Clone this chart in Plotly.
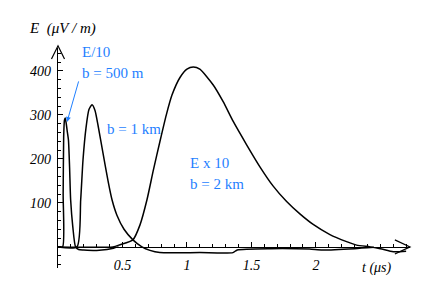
import plotly.graph_objects as go

# ---- data ----
t_500m = [0.0, 0.036, 0.040, 0.044, 0.050, 0.056, 0.064, 0.072, 0.081, 0.090, 0.098, 0.115, 0.136, 0.16, 0.20, 0.30, 0.38, 0.43, 0.47]
E_500m = [0, 0, 120, 250, 288, 293, 280, 262, 243, 180, 107, 45, 0, -6, -7, -8, -6, -3, 0]

t_1km = [0.0, 0.147, 0.176, 0.194, 0.217, 0.240, 0.264, 0.287, 0.310, 0.349, 0.388, 0.419, 0.457, 0.512, 0.581, 0.651,
         0.713, 0.79, 1.10, 1.357, 1.39, 1.65, 1.95, 2.05, 2.30, 2.45]
E_1km = [0, 0, 107, 198, 270, 312, 323, 310, 277, 213, 150, 107, 72, 40, 16, 0,
         -8, -13, -13, -13, -7, -4, -5, -7, -4, -1]

t_2km = [0.0, 0.426, 0.481, 0.581, 0.636, 0.690, 0.740, 0.791, 0.840, 0.884, 0.946, 1.000, 1.049, 1.100,
         1.204, 1.281, 1.359, 1.463, 1.566, 1.669, 1.773, 1.876, 1.979, 2.109, 2.238, 2.316, 2.42, 2.50, 2.60, 2.70]
E_2km = [0, 0, 5, 16, 50, 107, 175, 240, 300, 345, 385, 404, 409, 404,
         368, 330, 285, 232, 182, 138, 103, 75, 51, 28, 12, 4, 0, -4, -11, -10]

x_tick_vals = [0.5, 1, 1.5, 2]
x_tick_text = ["0.5", "1", "1.5", "2"]
y_tick_vals = [100, 200, 300, 400]
y_tick_text = ["100", "200", "300", "400"]

BLUE = "#1f7fff"
SERIF = "Liberation Serif"

fig = go.Figure()
for t, e in [(t_500m, E_500m), (t_1km, E_1km), (t_2km, E_2km)]:
    fig.add_trace(go.Scatter(x=t, y=e, mode="lines",
                             line=dict(color="black", width=1.5, shape="spline", smoothing=0.6),
                             showlegend=False, hoverinfo="skip"))

y_lo, y_hi = -48, 452
x_pos = (0 - y_lo) / (y_hi - y_lo)

fig.update_layout(
    width=436, height=304,
    margin=dict(l=58, r=26, t=48, b=36),
    paper_bgcolor="white", plot_bgcolor="white",
    showlegend=False,
    xaxis=dict(range=[0, 2.73], anchor="free", position=x_pos,
               showline=True, linecolor="black", linewidth=1.2,
               showgrid=False, zeroline=False,
               ticks="inside", ticklen=5, tickcolor="black", tickwidth=1,
               tickvals=x_tick_vals, ticktext=x_tick_text,
               ticklabelstandoff=5,
               tickfont=dict(family=SERIF, size=14, color="black", style="italic"),
               minor=dict(dtick=0.1, tick0=0, ticks="inside", ticklen=3, tickcolor="black")),
    yaxis=dict(range=[y_lo, y_hi],
               showline=True, linecolor="black", linewidth=1.2,
               showgrid=False, zeroline=False,
               ticks="inside", ticklen=5, tickcolor="black", tickwidth=1,
               tickvals=y_tick_vals, ticktext=y_tick_text,
               ticklabelstandoff=3,
               tickfont=dict(family=SERIF, size=14, color="black", style="italic"),
               minor=dict(dtick=20, tick0=0, ticks="inside", ticklen=3, tickcolor="black")),
)

# axis arrowheads (open V)
fig.add_shape(type="path", xref="paper", yref="paper",
              path="M -0.0185,0.95 L 0,1.01 L 0.0185,0.95",
              line=dict(color="black", width=1.2))
fig.add_shape(type="path", xref="paper", yref="paper",
              path=f"M 0.957,{x_pos + 0.032} L 1,{x_pos} L 0.957,{x_pos - 0.032}",
              line=dict(color="black", width=1.2))

NB = "\u00a0"
ann = []
ann.append(dict(text=f"E{NB}{NB}(μV{NB}/{NB}m)", x=-0.088, y=1.09, xref="paper", yref="paper",
                xanchor="left", yanchor="middle", showarrow=False,
                font=dict(family=SERIF, size=15, color="black", style="italic")))
ann.append(dict(text="t (μs)", x=0.858, y=0.0, xref="paper", yref="paper",
                xanchor="left", yanchor="middle", showarrow=False,
                font=dict(family=SERIF, size=14, color="black", style="italic")))
for txt, x, y in [("E/10", 0.0625, 0.982), ("b = 500 m", 0.0625, 0.886), ("b = 1 km", 0.1335, 0.632),
                  ("E x 10", 0.369, 0.477), ("b = 2 km", 0.369, 0.382)]:
    ann.append(dict(text=txt, x=x, y=y, xref="paper", yref="paper", xanchor="left", yanchor="middle",
                    showarrow=False, font=dict(family=SERIF, size=15, color=BLUE)))
ann.append(dict(text="", x=0.07, y=284, xref="x", yref="y", ax=12, ay=-42,
                showarrow=True, arrowhead=2, arrowsize=1, arrowwidth=1, arrowcolor=BLUE))
fig.update_layout(annotations=ann)

fig.write_html("out.html", config={"displayModeBar": False, "staticPlot": True})

# remove the default page margin so the figure sits at the top-left corner
with open("out.html", "r", encoding="utf-8") as f:
    html = f.read()
html = html.replace("<head>", "<head><style>html,body{margin:0;padding:0;}</style>", 1)
with open("out.html", "w", encoding="utf-8") as f:
    f.write(html)
